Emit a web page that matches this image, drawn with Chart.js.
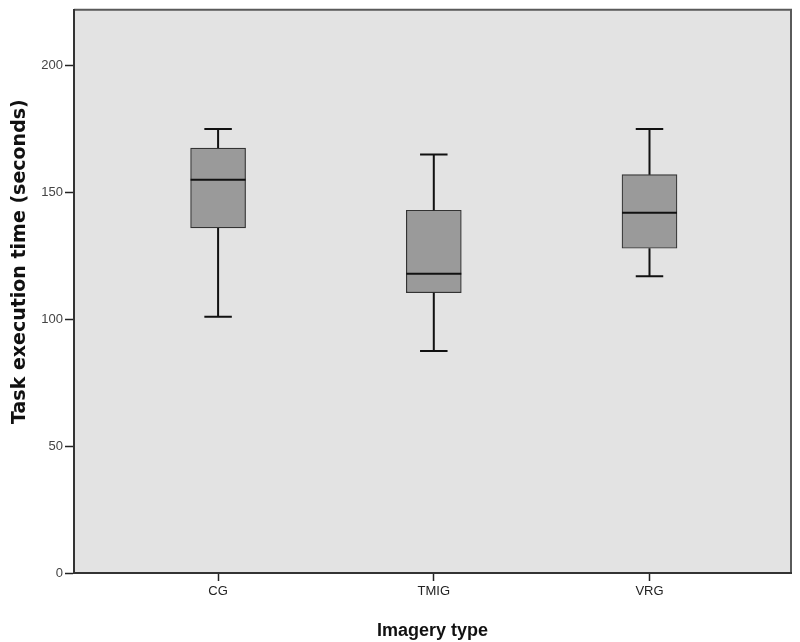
<!DOCTYPE html>
<html>
<head>
<meta charset="utf-8">
<script src="https://cdn.jsdelivr.net/npm/chart.js@4.4.1/dist/chart.umd.min.js"></script>
<style>
  html, body { margin: 0; padding: 0; background: #fff; }
  #wrap { width: 800px; height: 642px; }
</style>
</head>
<body>
<div id="wrap"><canvas id="chartBox"></canvas></div>
<script>
// Boxplot: tempo di esecuzione per tipo di immagine
const categories = ['CG', 'TMIG', 'VRG'];
const whiskerLow = [101, 87.5, 117];
const quartile1 = [136, 110.5, 128];
const medians = [155, 118, 142];
const quartile3 = [167.5, 143, 157];
const whiskerHigh = [175, 165, 175];
const yTicks = [0, 50, 100, 150, 200];

// sfondo grigio dell'area del grafico + bordo alto/destro
const plotBackground = {
  id: 'plotBackground',
  beforeDraw(chart) {
    const {ctx, chartArea: a} = chart;
    ctx.save();
    ctx.fillStyle = '#e3e3e3';
    ctx.fillRect(a.left, a.top, a.right - a.left, a.bottom - a.top);
    ctx.strokeStyle = '#5a5a5a';
    ctx.lineWidth = 2;
    ctx.beginPath();
    ctx.moveTo(a.left, a.top);
    ctx.lineTo(a.right, a.top);
    ctx.lineTo(a.right, a.bottom);
    ctx.stroke();
    ctx.restore();
  }
};

// baffi, stanghette e mediana disegnati sulle scale del grafico
const boxParts = {
  id: 'boxParts',
  afterDatasetsDraw(chart) {
    const {ctx, scales: {x, y}} = chart;
    const bars = chart.getDatasetMeta(0).data;
    ctx.save();
    ctx.strokeStyle = '#111';
    categories.forEach((c, i) => {
      const cx = x.getPixelForValue(i + 1);
      const half = bars[i].width / 2;
      const cap = half / 2;
      const yHi = y.getPixelForValue(whiskerHigh[i]);
      const yLo = y.getPixelForValue(whiskerLow[i]);
      ctx.lineWidth = 2;
      ctx.beginPath();
      ctx.moveTo(cx, y.getPixelForValue(quartile3[i]));
      ctx.lineTo(cx, yHi);
      ctx.moveTo(cx - cap, yHi);
      ctx.lineTo(cx + cap, yHi);
      ctx.moveTo(cx, y.getPixelForValue(quartile1[i]));
      ctx.lineTo(cx, yLo);
      ctx.moveTo(cx - cap, yLo);
      ctx.lineTo(cx + cap, yLo);
      ctx.stroke();
      const yMed = y.getPixelForValue(medians[i]);
      ctx.beginPath();
      ctx.moveTo(cx - half, yMed);
      ctx.lineTo(cx + half, yMed);
      ctx.stroke();
    });
    ctx.restore();
  }
};

const ctxBox = document.getElementById('chartBox').getContext('2d');
const chartBox = new Chart(ctxBox, {
  type: 'bar',
  data: {
    datasets: [{
      data: categories.map((c, i) => ({x: i + 1, y: [quartile1[i], quartile3[i]]})),
      backgroundColor: '#9a9a9a',
      borderColor: '#333',
      borderWidth: 1.2,
      borderSkipped: false,
      barThickness: 55
    }]
  },
  options: {
    responsive: true,
    maintainAspectRatio: false,
    animation: false,
    layout: { padding: { top: 9, right: 9, left: 0, bottom: 0 } },
    plugins: {
      legend: { display: false },
      tooltip: { enabled: false }
    },
    scales: {
      x: {
        type: 'linear',
        offset: false,
        min: 0.332,
        max: 3.656,
        afterBuildTicks: s => { s.ticks = categories.map((c, i) => ({value: i + 1})); },
        afterFit: s => { s.height = 69; },
        ticks: {
          callback: v => categories[v - 1],
          color: '#222',
          font: { family: 'Liberation Sans', size: 13 },
          padding: 3,
          maxRotation: 0
        },
        grid: { offset: false, drawOnChartArea: false, tickLength: 8, tickColor: '#222', tickWidth: 1.5 },
        border: { color: '#333', width: 2 },
        title: {
          display: true,
          text: 'Imagery type',
          color: '#111',
          font: { family: 'Liberation Sans', size: 18, weight: 'bold' },
          padding: { top: 0, bottom: 0 }
        }
      },
      y: {
        min: 0,
        max: 222,
        afterBuildTicks: s => { s.ticks = yTicks.map(v => ({value: v})); },
        afterFit: s => { s.width = 74; },
        ticks: {
          color: '#444',
          font: { family: 'Liberation Sans', size: 13 },
          padding: 2
        },
        grid: { drawOnChartArea: false, tickLength: 9, tickColor: '#222', tickWidth: 1.5 },
        border: { color: '#333', width: 2 },
        title: {
          display: true,
          text: '         Task execution time (seconds)',
          color: '#111',
          font: { family: 'DejaVu Sans', size: 19, weight: 'bold' },
          padding: { top: 9, bottom: 0 }
        }
      }
    }
  },
  plugins: [plotBackground, boxParts]
});
</script>
</body>
</html>
